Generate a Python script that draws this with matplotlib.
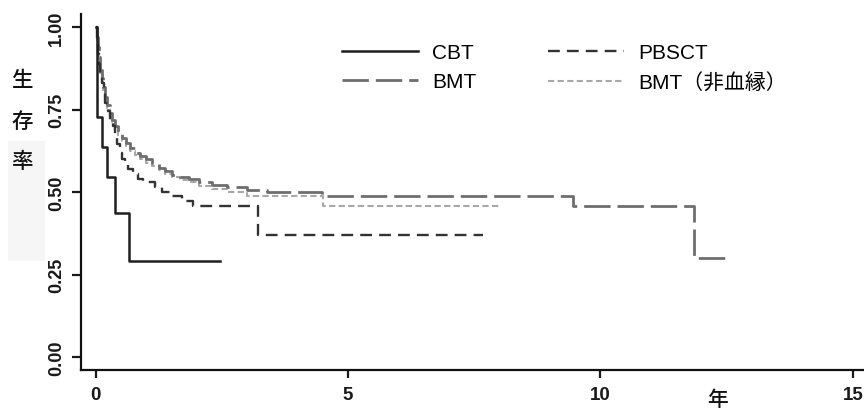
import matplotlib
matplotlib.use('Agg')
import matplotlib.pyplot as plt
from matplotlib.patches import Rectangle

plt.rcParams['font.family'] = ['Liberation Sans', 'Noto Sans CJK JP', 'DejaVu Sans']

# Kaplan-Meier curves (years, survival)
cbt_t = [0, 0.02, 0.12, 0.22, 0.38, 0.66, 2.46]
cbt_s = [1.0, 0.727, 0.636, 0.545, 0.436, 0.291, 0.291]

pbsct_t = [0, 0.02, 0.04, 0.06, 0.09, 0.12, 0.16, 0.19, 0.24, 0.29, 0.34, 0.39,
           0.43, 0.48, 0.52, 0.58, 0.64, 0.74, 0.84, 0.95, 1.04, 1.18, 1.32,
           1.51, 1.72, 1.93, 3.22, 7.68]
pbsct_s = [1.0, 0.96, 0.92, 0.89, 0.86, 0.83, 0.80, 0.77, 0.745, 0.72, 0.70, 0.67,
           0.645, 0.62, 0.60, 0.585, 0.57, 0.555, 0.54, 0.535, 0.53, 0.515, 0.50,
           0.49, 0.475, 0.458, 0.37, 0.37]

bmt_t = [0, 0.02, 0.04, 0.06, 0.09, 0.12, 0.15, 0.19, 0.23, 0.28, 0.33, 0.39,
         0.45, 0.52, 0.60, 0.68, 0.78, 0.88, 1.0, 1.12, 1.25, 1.38, 1.52, 1.68,
         1.85, 2.05, 2.3, 2.6, 3.0, 3.4, 4.48, 9.46, 11.85, 12.5]
bmt_s = [1.0, 0.97, 0.94, 0.91, 0.87, 0.845, 0.82, 0.79, 0.765, 0.74, 0.72, 0.70,
         0.68, 0.665, 0.65, 0.635, 0.62, 0.61, 0.60, 0.59, 0.575, 0.563, 0.553,
         0.547, 0.54, 0.532, 0.522, 0.515, 0.508, 0.50, 0.49, 0.457, 0.30, 0.30]

bmtu_t = [0, 0.02, 0.04, 0.06, 0.09, 0.12, 0.15, 0.19, 0.23, 0.28, 0.33, 0.39,
          0.45, 0.52, 0.60, 0.68, 0.78, 0.88, 1.0, 1.12, 1.25, 1.38, 1.52, 1.68,
          1.85, 2.05, 2.3, 2.6, 3.0, 4.5, 8.0]
bmtu_s = [1.0, 0.96, 0.93, 0.90, 0.86, 0.835, 0.81, 0.78, 0.755, 0.73, 0.71, 0.69,
          0.67, 0.655, 0.64, 0.625, 0.612, 0.60, 0.59, 0.58, 0.567, 0.556, 0.546,
          0.538, 0.53, 0.52, 0.51, 0.50, 0.49, 0.457, 0.457]

labels = ['CBT', 'BMT', 'PBSCT', 'BMT（非血縁）']
xticks = [0, 5, 10, 15]
yticks = [0.0, 0.25, 0.5, 0.75, 1.0]

fig = plt.figure(figsize=(8.64, 4.10), dpi=100)
ax = fig.add_axes([0.0938, 0.0963, 0.9062, 0.867])

# light grey patch behind the y label (scan artifact in the original)
fig.patches.append(Rectangle((8 / 864, 1 - 262 / 410), 37 / 864, 120 / 410,
                             transform=fig.transFigure, facecolor='#f6f6f6',
                             edgecolor='none', zorder=0))

ax.step(cbt_t, cbt_s, where='post', color='#1e1e1e', lw=1.8, label=labels[0], zorder=4)
ax.step(bmt_t, bmt_s, where='post', color='#6e6e6e', lw=2.0,
        linestyle=(0, (9.5, 2.5)), label=labels[1], zorder=3)
ax.step(pbsct_t, pbsct_s, where='post', color='#333333', lw=1.7,
        linestyle=(0, (5.0, 3.0)), label=labels[2], zorder=3)
ax.step(bmtu_t, bmtu_s, where='post', color='#a8a8a8', lw=1.5,
        linestyle=(0, (3.0, 1.6)), label=labels[3], zorder=2)

ax.set_xlim(-0.287, 15.22)
ax.set_ylim(-0.037, 1.04)
ax.set_xticks(xticks)
ax.set_xticklabels([str(v) for v in xticks], fontweight='bold')
ax.set_yticks(yticks)
ax.set_yticklabels(['%.2f' % v for v in yticks], rotation=90, va='center',
                   fontweight='bold')

for side in ['top', 'right']:
    ax.spines[side].set_visible(False)
for side in ['left', 'bottom']:
    ax.spines[side].set_linewidth(1.6)
    ax.spines[side].set_color('#111111')

ax.tick_params(axis='x', length=6, width=1.6, pad=6, labelsize=13.5, colors='#1a1a1a')
ax.tick_params(axis='y', length=6.5, width=1.6, pad=5, labelsize=13, colors='#1a1a1a')

fig.text(22 / 864, 1 - 122 / 410, '生\n存\n率', ha='center', va='center',
         fontsize=15.5, linespacing=2.2, color='#111111', fontweight='medium')
fig.text(718 / 864, 1 - 400 / 410, '年', ha='center', va='center',
         fontsize=15, color='#111111', fontweight='medium')

ax.legend(ncol=2, frameon=False, loc='upper left',
          bbox_to_anchor=(342 / 864, 1 - 44 / 410), bbox_transform=fig.transFigure,
          fontsize=15, handlelength=3.65, handletextpad=0.67, columnspacing=3.45,
          labelspacing=0.5, borderpad=0, borderaxespad=0)

fig.savefig('out.png', dpi=100)
plt.close('all')
